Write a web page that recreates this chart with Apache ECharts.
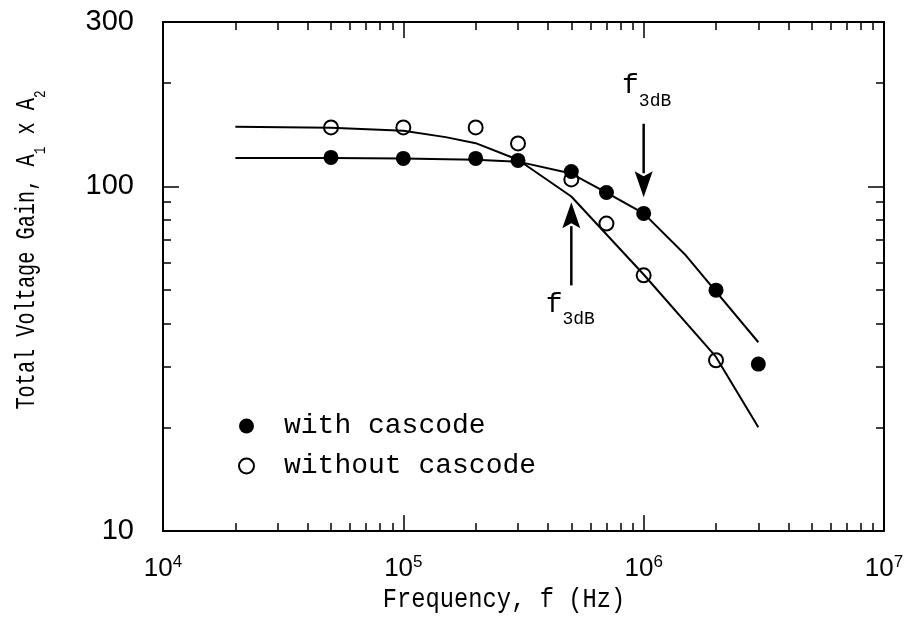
<!DOCTYPE html>
<html><head><meta charset="utf-8">
<script src="https://cdn.jsdelivr.net/npm/echarts@6/dist/echarts.min.js"></script>
<style>html,body{margin:0;padding:0;background:#fff}#c{width:905px;height:626px}</style>
</head><body><div id="c"></div>
<script>
// measured points
const freqWith = [5e4, 1e5, 2e5, 3e5, 5e5, 7e5, 1e6, 2e6, 3e6];
const gainWith = [121.4, 120.6, 120.6, 119, 110.5, 96, 83.5, 50, 30.5];
const freqWithout = [5e4, 1e5, 2e5, 3e5, 5e5, 7e5, 1e6, 2e6];
const gainWithout = [148.3, 148.3, 148.3, 133.3, 104.8, 78, 55.2, 31.3];
// fitted curves
const fitWithFreq = [2e4, 5e4, 1e5, 2e5, 3e5, 5e5, 7e5, 1e6, 1.5e6, 3e6];
const fitWithGain = [121, 121, 120.5, 119.5, 118, 109, 96, 83.5, 63, 35.3];
const fitWithoutFreq = [2e4, 5e4, 1e5, 1.5e5, 2e5, 3e5, 5e5, 1e6, 2e6, 3e6];
const fitWithoutGain = [149, 148, 145, 139, 133.5, 119.5, 93.5, 55.5, 32, 20];
// axes
const xTickLabels = [1e4, 1e5, 1e6, 1e7];
const xMajorTicks = [1e5, 1e6];
const xMinorTicks = [2e4,3e4,4e4,5e4,6e4,7e4,8e4,9e4, 2e5,3e5,4e5,5e5,6e5,7e5,8e5,9e5, 2e6,3e6,4e6,5e6,6e6,7e6,8e6,9e6];
const yTickLabels = [10, 100, 300];
const yMajorTicks = [100];
const yMinorTicks = [20, 30, 40, 50, 60, 70, 80, 90, 200];
const xTitle = 'Frequency, f (Hz)';
const yTitleParts = ['Total Voltage Gain, A', '1', ' x A', '2'];
// f3dB arrows: frequency, tail gain, tip gain
const arrowFreq = [1e6, 5e5];
const arrowTail = [152, 51.6];
const arrowTip = [93, 90];
const arrowLabel = ['f', 'f'];
const arrowSub = ['3dB', '3dB'];

const BLACK = '#000';
const MONO = 'Liberation Mono';
const SANS = 'Liberation Sans';

function xAxisDef(grid, pos, ticks, len, labels) {
  return {
    type: 'log', logBase: 10, min: 1e4, max: 1e7, gridIndex: grid, position: pos,
    axisLine: { show: len > 10, onZero: false, lineStyle: { color: BLACK, width: 2 } },
    axisTick: { show: true, inside: true, length: len, customValues: ticks, lineStyle: { color: BLACK, width: 1.5 } },
    axisLabel: labels ? {
      customValues: xTickLabels, margin: 23, color: BLACK,
      formatter: v => '{b|10}{s|' + Math.round(Math.log10(v)) + '}',
      rich: {
        b: { fontFamily: SANS, fontSize: 26, color: BLACK },
        s: { fontFamily: SANS, fontSize: 17, color: BLACK, padding: [0, 0, 13, 0] }
      }
    } : { show: false },
    splitLine: { show: false }, minorTick: { show: false }
  };
}
function yAxisDef(grid, pos, ticks, len, labels) {
  return {
    type: 'log', logBase: 10, min: 10, max: 300, gridIndex: grid, position: pos,
    axisLine: { show: len > 10, onZero: false, lineStyle: { color: BLACK, width: 2 } },
    axisTick: { show: true, inside: true, length: len, customValues: ticks, lineStyle: { color: BLACK, width: 1.5 } },
    axisLabel: labels ? {
      customValues: yTickLabels, margin: 29, color: BLACK,
      fontFamily: SANS, fontSize: 29, formatter: v => String(v)
    } : { show: false },
    splitLine: { show: false }, minorTick: { show: false }
  };
}

const xs = [
  xAxisDef(0, 'bottom', xMajorTicks, 16, true),
  xAxisDef(0, 'top', xMajorTicks, 16, false),
  xAxisDef(1, 'bottom', xMinorTicks, 8, false),
  xAxisDef(1, 'top', xMinorTicks, 8, false)
];
const ys = [
  yAxisDef(0, 'left', yMajorTicks, 16, true),
  yAxisDef(0, 'right', yMajorTicks, 16, false),
  yAxisDef(1, 'left', yMinorTicks, 8, false),
  yAxisDef(1, 'right', yMinorTicks, 8, false)
];

const pair = (a, b) => a.map((v, i) => [v, b[i]]);

const chart = echarts.init(document.getElementById('c'), null, { renderer: 'canvas' });
const gridRect = { left: 163, right: 21, top: 22, bottom: 95, containLabel: false, outerBoundsMode: 'none' };
chart.setOption({
  animation: false,
  backgroundColor: '#fff',
  grid: [Object.assign({}, gridRect), Object.assign({}, gridRect)],
  xAxis: xs,
  yAxis: ys,
  legend: {
    orient: 'vertical', left: 233, top: 407, itemWidth: 15, itemHeight: 15, itemGap: 12,
    selectedMode: false, data: ['with cascode', 'without cascode'],
    textStyle: { fontFamily: MONO, fontSize: 28, color: BLACK, padding: [0, 0, 0, 25] }
  },
  series: [
    { name: 'fit with', type: 'line', xAxisIndex: 0, yAxisIndex: 0, data: pair(fitWithFreq, fitWithGain),
      showSymbol: false, symbol: 'none', silent: true, z: 2, lineStyle: { color: BLACK, width: 2 } },
    { name: 'fit without', type: 'line', xAxisIndex: 0, yAxisIndex: 0, data: pair(fitWithoutFreq, fitWithoutGain),
      showSymbol: false, symbol: 'none', silent: true, z: 2, lineStyle: { color: BLACK, width: 2 } },
    { name: 'with cascode', type: 'scatter', xAxisIndex: 0, yAxisIndex: 0, data: pair(freqWith, gainWith),
      symbol: 'circle', symbolSize: 15, z: 3, itemStyle: { color: BLACK, opacity: 1 } },
    { name: 'without cascode', type: 'scatter', xAxisIndex: 0, yAxisIndex: 0, data: pair(freqWithout, gainWithout),
      symbol: 'circle', symbolSize: 14, z: 3, itemStyle: { color: 'rgba(0,0,0,0)', borderColor: BLACK, borderWidth: 2, opacity: 1 } }
  ]
});

const graphics = [];
// axis titles (condensed typewriter look)
graphics.push({
  type: 'text', x: 504, y: 600, scaleX: 0.88, z: 10,
  style: { text: xTitle, fontFamily: MONO, fontSize: 27, fill: BLACK, align: 'center', verticalAlign: 'middle' }
});
graphics.push({
  type: 'text', x: 27, y: 250, rotation: Math.PI / 2, scaleX: 0.75, z: 10,
  style: {
    text: '{m|' + yTitleParts[0] + '}{s|' + yTitleParts[1] + '}{m|' + yTitleParts[2] + '}{s|' + yTitleParts[3] + '}',
    fill: BLACK, align: 'center', verticalAlign: 'middle',
    rich: {
      m: { fontFamily: MONO, fontSize: 27, fill: BLACK },
      s: { fontFamily: MONO, fontSize: 17, fill: BLACK, padding: [26, 0, 0, 0] }
    }
  }
});
// arrows and f3dB labels positioned through the axes' scales
arrowFreq.forEach((f, i) => {
  const tail = chart.convertToPixel({ xAxisIndex: 0, yAxisIndex: 0 }, [f, arrowTail[i]]);
  const tip = chart.convertToPixel({ xAxisIndex: 0, yAxisIndex: 0 }, [f, arrowTip[i]]);
  const dir = tip[1] > tail[1] ? 1 : -1;
  const headLen = 26, headHalf = 9;
  const base = tip[1] - dir * headLen;
  graphics.push({ type: 'line', shape: { x1: tail[0], y1: tail[1], x2: tip[0], y2: base + dir * 2 },
    style: { stroke: BLACK, lineWidth: 2.5 }, z: 10 });
  graphics.push({ type: 'polygon', shape: { points: [[tip[0], tip[1]], [tip[0] - headHalf, base], [tip[0], base + dir * 5], [tip[0] + headHalf, base]] },
    style: { fill: BLACK }, z: 10 });
  const labelText = '{f|' + arrowLabel[i] + '}{s|' + arrowSub[i] + '}';
  const common = {
    text: labelText, fill: BLACK, align: 'center',
    rich: {
      f: { fontFamily: MONO, fontSize: 28, fill: BLACK },
      s: { fontFamily: MONO, fontSize: 18, fill: BLACK, padding: [30, 0, 0, 0] }
    }
  };
  if (dir === 1) {
    graphics.push({ type: 'text', x: tail[0] + 3, y: tail[1] - 14, z: 10,
      style: Object.assign({ verticalAlign: 'bottom' }, common) });
  } else {
    graphics.push({ type: 'text', x: tail[0] - 1, y: tail[1] - 5, z: 10,
      style: Object.assign({ verticalAlign: 'top' }, common) });
  }
});
chart.setOption({ graphic: graphics });
</script>
</body></html>
